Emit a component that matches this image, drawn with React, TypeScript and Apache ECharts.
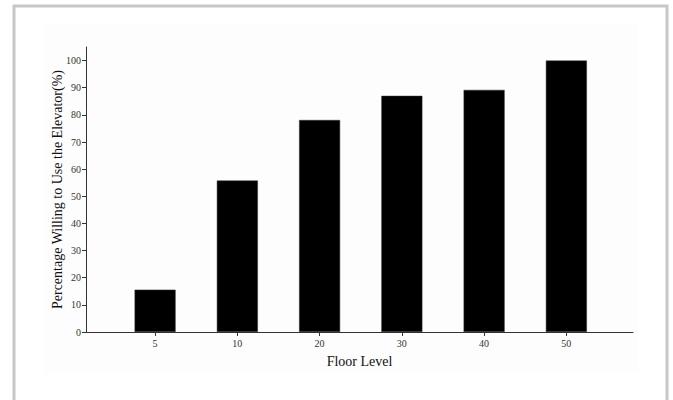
import React, { useEffect, useRef } from "react";
import * as echarts from "echarts";

const floors = ["5", "10", "20", "30", "40", "50"];
const percentages = [15.6, 55.8, 78.1, 87.0, 89.2, 100.0];
const yTicks = [0, 10, 20, 30, 40, 50, 60, 70, 80, 90, 100];

export default function App() {
  const ref = useRef<HTMLDivElement>(null);
  useEffect(() => {
    if (!ref.current) return;
    const chart = echarts.init(ref.current, null, { renderer: "svg" });
    const positions = floors.map((_, i) => i);
    chart.setOption({
      animation: false,
      backgroundColor: "#ffffff",
      graphic: [
        {
          type: "rect",
          z: -10,
          shape: { x: 44, y: 23, width: 594, height: 350 },
          style: { fill: "#fdfdfd" },
          silent: true,
        },
        {
          type: "rect",
          z: -5,
          shape: { x: 14, y: 6, width: 653, height: 410 },
          style: { fill: "none", stroke: "#c8c8c8", lineWidth: 3 },
          silent: true,
        },
      ],
      grid: { left: 86, right: 40, top: 47, bottom: 68, containLabel: false },
      xAxis: {
        type: "value",
        min: -0.84,
        max: 5.81,
        splitLine: { show: false },
        axisLine: { show: true, onZero: false, lineStyle: { color: "#333", width: 1 } },
        axisTick: {
          show: true,
          length: 4,
          customValues: positions,
          lineStyle: { color: "#333" },
        },
        axisLabel: {
          customValues: positions,
          formatter: (v: number) => floors[Math.round(v)] ?? "",
          fontFamily: "Liberation Serif",
          fontSize: 10,
          color: "#333",
          margin: 6,
        },
        name: "Floor Level",
        nameLocation: "middle",
        nameGap: 22,
        nameMoveOverlap: false,
        nameTextStyle: { fontFamily: "Liberation Serif", fontSize: 14, color: "#111" },
      },
      yAxis: {
        type: "value",
        min: 0,
        max: 105,
        splitLine: { show: false },
        axisLine: { show: true, onZero: false, lineStyle: { color: "#333", width: 1 } },
        axisTick: {
          show: true,
          length: 4,
          customValues: yTicks,
          lineStyle: { color: "#333" },
        },
        axisLabel: {
          customValues: yTicks,
          fontFamily: "Liberation Serif",
          fontSize: 10,
          color: "#333",
          margin: 5,
        },
        name: "Percentage Willing to Use the Elevator(%)",
        nameLocation: "middle",
        nameGap: 22,
        nameMoveOverlap: false,
        nameRotate: 90,
        nameTextStyle: { fontFamily: "Liberation Serif", fontSize: 14, color: "#111" },
      },
      series: [
        {
          type: "bar",
          data: percentages.map((p, i) => [positions[i], p]),
          barWidth: 41,
          itemStyle: { color: "#000000", borderColor: "#333", borderWidth: 0.5 },
        },
      ],
    });
    return () => chart.dispose();
  }, []);
  return (
    <div
      ref={ref}
      style={{ position: "absolute", left: 0, top: 0, width: 673, height: 400 }}
    />
  );
}
